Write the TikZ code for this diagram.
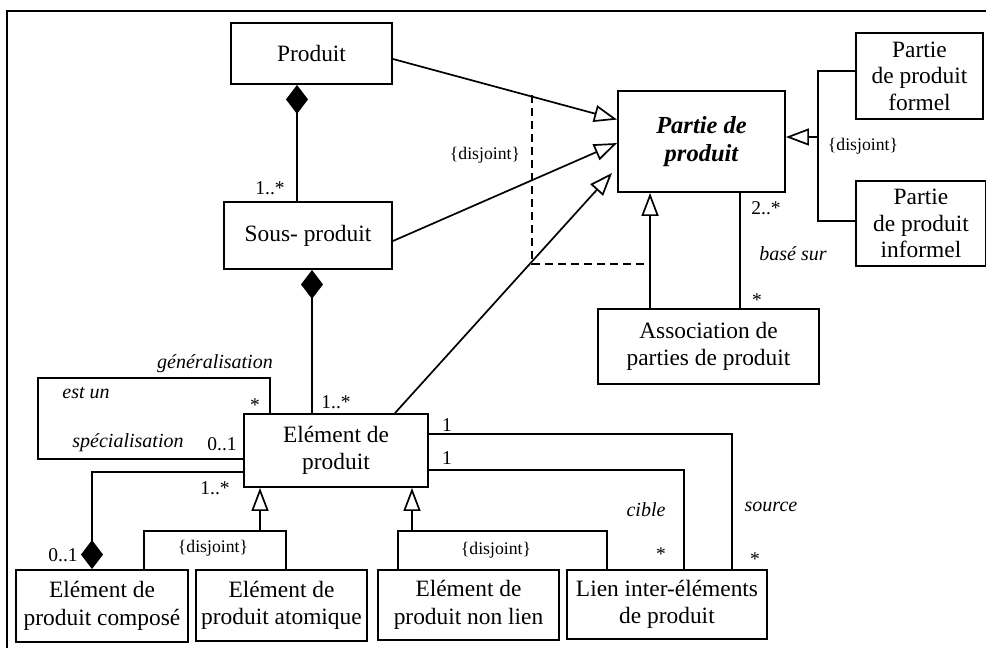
\documentclass[tikz,border=0pt]{standalone}
\usepackage{fontspec}
\setmainfont{Liberation Serif}
\usetikzlibrary{arrows.meta,positioning,calc}

\begin{document}
\begin{tikzpicture}[x=1pt,y=-1pt,
  cls/.style={draw,line width=1.9pt,inner sep=0pt,align=center,
              font=\fontsize{23.4}{27.5}\selectfont},
  lnk/.style={line width=1.7pt},
  gen/.style={lnk,-{Triangle[open,length=23pt,width=17pt]}},
  comp/.style={lnk,-{Diamond[length=29pt,width=22pt]}},
  mult/.style={inner sep=0pt,font=\fontsize{19.5}{22}\selectfont},
  role/.style={inner sep=0pt,font=\fontsize{20}{24}\selectfont\itshape},
  cstr/.style={inner sep=0pt,font=\fontsize{17.7}{20}\selectfont}]
\useasboundingbox (0,0) rectangle (986,648);
\draw[lnk] (7,648) -- (7,11) -- (986,11);

\node[cls,minimum width=161pt,minimum height=61pt] (produit) at (311.5,53.5) {Produit};
\node[cls,minimum width=168pt,minimum height=67pt] (sousprod) at (308,235.5) {Sous- produit};
\node[cls,minimum width=167pt,minimum height=101pt,
      font=\fontsize{24.5}{28}\selectfont\bfseries\itshape] (partie) at (701.5,141.5) {Partie de\\produit};
\node[cls,minimum width=127pt,minimum height=86pt,
      font=\fontsize{23.4}{26.5}\selectfont] (formel) at (919.5,76) {Partie\\de produit\\formel};
\node[cls,minimum width=130pt,minimum height=85pt,
      font=\fontsize{23.4}{26.5}\selectfont] (informel) at (921,223.5) {Partie\\de produit\\informel};
\node[cls,minimum width=221pt,minimum height=75pt] (assoc) at (708.5,346.5) {Association de\\parties de produit};
\node[cls,minimum width=184pt,minimum height=73pt] (elem) at (336,450.5) {Elément de\\produit};
\node[cls,minimum width=172pt,minimum height=72pt] (compose) at (102,606) {Elément de\\produit composé};
\node[cls,minimum width=171pt,minimum height=71pt] (atomique) at (281.5,605.5) {Elément de\\produit atomique};
\node[cls,minimum width=181pt,minimum height=70pt] (nonlien) at (468.5,605) {Elément de\\produit non lien};
\node[cls,minimum width=200pt,minimum height=69pt] (lien) at (667,604.5) {Lien inter-éléments\\de produit};

\coordinate (dtop) at (532,95);
\coordinate (djoin) at (651,264);
\coordinate (fjoin) at (818,137);
\coordinate (loop) at (38,378);
\coordinate (g1) at (260,531);
\coordinate (g2) at (412,531);

\draw[comp] ($(sousprod.north)+(-11,0)$) -- ($(produit.south)+(-14.5,0)$);
\draw[comp] ($(elem.north)+(-24,0)$) -- ($(sousprod.south)+(4,0)$);
\draw[comp] ($(elem.west)+(0,21.5)$) -| ($(compose.north)+(-10,0)$);

\draw[gen] ($(produit.east)+(0,5.5)$) -- ($(partie.north west)!.287!(partie.south west)$);
\draw[gen] ($(sousprod.east)+(0,5.5)$) -- ($(partie.north west)!.515!(partie.south west)$);
\draw[gen] ($(elem.north)+(59,0)$) -- ($(partie.south west)+(-5,-20)$);
\draw[gen] ($(assoc.north west)+(53,0)$) -- ($(partie.south west)+(33,0)$);
\draw[lnk,dash pattern=on 8pt off 5pt] (dtop) |- (djoin);
\draw[lnk] ($(assoc.north west)+(143,0)$) -- ($(partie.south west)+(123,0)$);

\draw[lnk] ($(formel.west)+(0,-5)$) -| (fjoin) |- ($(informel.west)+(0,-2.5)$);
\draw[gen] (fjoin) -- (fjoin -| partie.east);

\draw[lnk] ($(elem.north)+(-66,0)$) |- (loop) |- ($(elem.west)+(0,8.5)$);

\draw[lnk] ($(compose.north)+(42,0)$) |- (g1) -| ($(atomique.north)+(4.5,0)$);
\draw[gen] (g1) -- (g1 |- elem.south);
\draw[lnk] ($(nonlien.north)+(-70.5,0)$) |- (g2) -| ($(lien.north)+(-60,0)$);
\draw[gen] (g2) -- (g2 |- elem.south);

\draw[lnk] ($(elem.east)+(0,-16.5)$) -| ($(lien.north)+(65,0)$);
\draw[lnk] ($(elem.east)+(0,19.5)$) -| ($(lien.north)+(17,0)$);

\node[mult] (m-prod) at (270,188) {1..*};
\node[mult] (m-sous) at (336,402) {1..*};
\node[mult] (m-base1) at (766,208) {2..*};
\node[mult] (m-base2) at (757,300) {*};
\node[role] (r-base) at (793,254) {basé sur};
\node[cstr] (c-partie) at (485,155) {\{disjoint\}};
\node[cstr] (c-formel) at (863,146) {\{disjoint\}};
\node[role] (r-gen) at (215,364) {généralisation};
\node[role] (r-estun) at (86,393) {est un};
\node[mult] (m-gen) at (255,405) {*};
\node[role] (r-spec) at (128,443) {spécialisation};
\node[mult] (m-spec) at (222,444) {0..1};
\node[mult] (m-comp1) at (215,488) {1..*};
\node[mult] (m-comp2) at (63,555) {0..1};
\node[cstr] (c-atom) at (213,548) {\{disjoint\}};
\node[cstr] (c-lien) at (496,550) {\{disjoint\}};
\node[mult] (m-src1) at (447,425) {1};
\node[mult] (m-cib1) at (447,458) {1};
\node[role] (r-cible) at (646,510) {cible};
\node[role] (r-source) at (771,507) {source};
\node[mult] (m-cib2) at (661,554) {*};
\node[mult] (m-src2) at (755,559) {*};
\end{tikzpicture}
\end{document}
